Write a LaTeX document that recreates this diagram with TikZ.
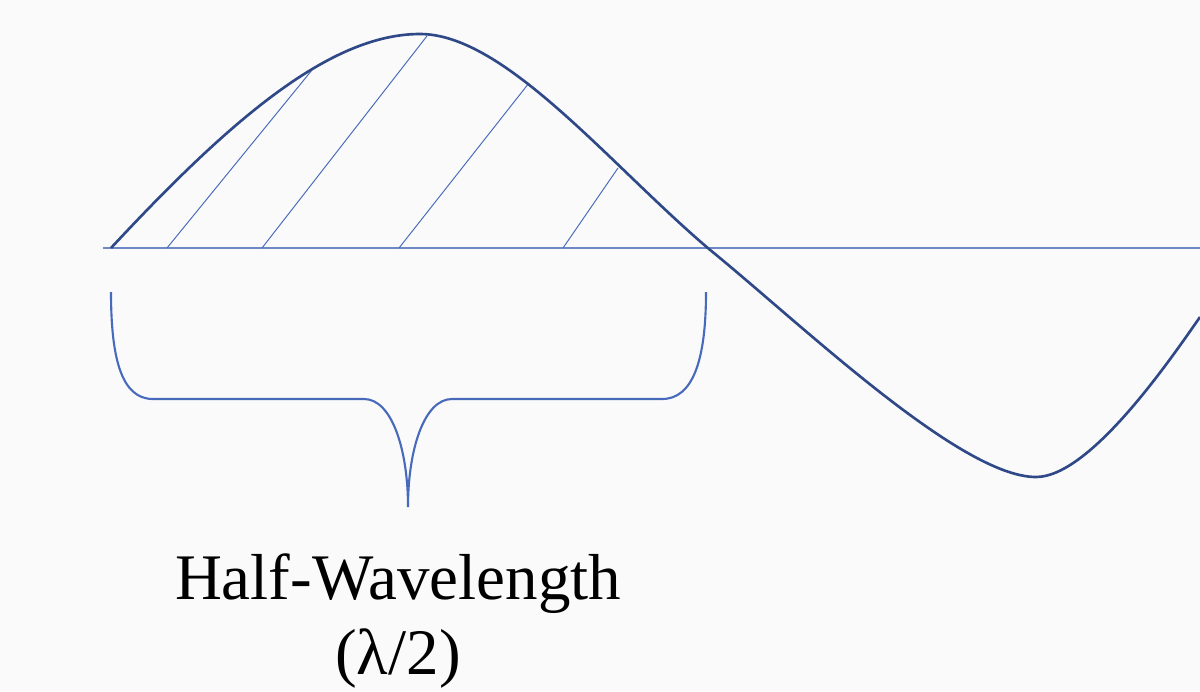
\documentclass[tikz,border=0pt]{standalone}
\usepackage{fontspec}
\setmainfont{Liberation Serif}
\usepackage{tikz}
\usetikzlibrary{positioning}
\definecolor{wvnavy}{RGB}{47,72,135}
\definecolor{wvblue}{RGB}{72,106,186}
\definecolor{wvaxis}{RGB}{110,136,198}
\definecolor{wvbg}{RGB}{250,250,250}
\tikzset{
  wave/.style={draw=wvnavy, line width=1.5pt},
  axisline/.style={draw=wvaxis, line width=0.85pt},
  hatch/.style={draw=wvblue, line width=0.55pt},
  brace/.style={draw=wvblue, line width=1.2pt},
  label/.style={align=center, font=\fontsize{37}{42.5}\selectfont, text=black}
}
\begin{document}
\begin{tikzpicture}[x=0.02cm, y=-0.02cm]
  %% canvas
  \fill[wvbg] (0,0) rectangle (1200,691);
  \useasboundingbox (0,0) rectangle (1200,691);

  %% axis
  \coordinate (ax0) at (103,248);
  \coordinate (ax1) at (1200,248);
  \draw[axisline] (ax0) -- (ax1);

  %% hatching under the first lobe
  \foreach \bx/\tx/\ty in {167/312/70, 262/427/36, 399/529/83, 563/618/168}{
    \draw[hatch] (\bx,248) -- (\tx,\ty);
  }

  %% wave
  \draw[wave] (111,248) .. controls (230,120) and (330,34) .. (420,34)
    .. controls (505,34) and (610,165) .. (709,249)
    .. controls (800,323) and (960,477) .. (1036,477)
    .. controls (1090,477) and (1170,360) .. (1200,317);

  %% brace
  \draw[brace] (111,292) .. controls (111,360) and (122,399) .. (153,399)
    -- (364,399) .. controls (392,399) and (408,450) .. (408,507)
    .. controls (408,450) and (424,399) .. (452,399)
    -- (662,399) .. controls (693,399) and (706,360) .. (706,292);

  %% label
  \node[label, anchor=base] (half) at (398,674) {Half-Wavelength\\(λ/2)};
\end{tikzpicture}
\end{document}
